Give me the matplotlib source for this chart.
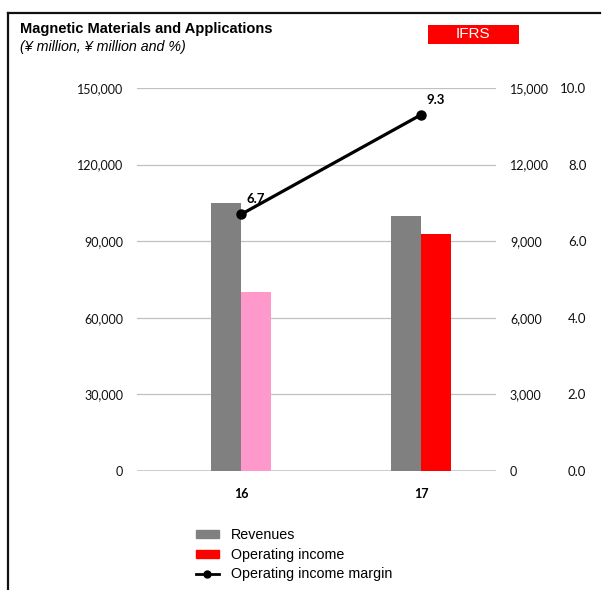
import matplotlib
matplotlib.use("Agg")
import matplotlib.pyplot as plt
from matplotlib.patches import Rectangle
from matplotlib.lines import Line2D
import numpy as np

categories = ["16", "17"]
revenues = [105000, 99900]
operating_income = [7010, 9280]
operating_margin = [6.7, 9.3]
oi_colors = ["#FF99CC", "#FF0000"]

left_ticks = [0, 30000, 60000, 90000, 120000, 150000]
mid_ticks = [0, 3000, 6000, 9000, 12000, 15000]
right_ticks = [0.0, 2.0, 4.0, 6.0, 8.0, 10.0]

W, H = 606, 590
fig = plt.figure(figsize=(W / 100, H / 100), dpi=100)
fig.patch.set_facecolor("white")

tick_font = "Lato"
ax = fig.add_axes([137 / W, 1 - 471 / H, 359 / W, 383 / H])
ax.set_ylim(0, 150000)
ax.set_xlim(-0.578, 1.417)
x = np.arange(len(categories))
bw = 0.167
ax.bar(x - bw / 2, revenues, width=bw, color="#808080", zorder=3, label="Revenues")

ax2 = ax.twinx()
ax2.set_ylim(0, 15000)
ax2.bar(x + bw / 2, operating_income, width=bw, color=oi_colors, zorder=3, label="Operating income")

ax3 = ax.twinx()
ax3.set_ylim(0, 10)
ax3.plot(x, operating_margin, color="black", lw=2.3, marker="o", markersize=6.5, zorder=5,
         label="Operating income margin")
for xi, v in zip(x, operating_margin):
    ax3.annotate(f"{v:.1f}", (xi, v), xytext=(4, 6.5), textcoords="offset points",
                 ha="left", va="bottom", fontsize=9.5, fontweight="bold", family=tick_font)

for a in (ax, ax2, ax3):
    for s in a.spines.values():
        s.set_visible(False)

ax.set_yticks(left_ticks)
ax.set_yticklabels([f"{t:,}" for t in left_ticks], fontsize=9, family=tick_font, color="#111111")
ax.tick_params(axis="y", length=0, pad=10)
ax.yaxis.grid(True, color="#c0c0c0", lw=0.9, zorder=0)
ax.set_axisbelow(True)
ax.axhline(0, color="#c8c8c8", lw=2, zorder=2)

ax.set_xticks(x)
ax.set_xticklabels(categories, fontsize=9, fontweight="bold", family=tick_font)
ax.tick_params(axis="x", length=0, pad=12)

ax2.set_yticks(mid_ticks)
ax2.set_yticklabels([f"{t:,}" for t in mid_ticks], fontsize=9, family=tick_font, color="#111111")
ax2.tick_params(axis="y", length=0, pad=10)

ax3.set_yticks(right_ticks)
ax3.set_yticklabels([f"{t:.1f}" for t in right_ticks], fontsize=9.5, family=tick_font, color="#111111")
ax3.tick_params(axis="y", length=0, pad=65)
for lbl in ax3.get_yticklabels():
    lbl.set_horizontalalignment("right")

# Title
fig.text(20 / W, 1 - 29 / H, "Magnetic Materials and Applications", fontsize=10.5,
         fontweight="bold", family="Liberation Sans", va="center", ha="left")
fig.text(20 / W, 1 - 46.5 / H, "(\u00a5 million, \u00a5 million and %)", fontsize=10.3,
         style="italic", family="Liberation Sans", va="center", ha="left")

# IFRS box
fig.patches.append(Rectangle((428 / W, 1 - 44 / H), 91 / W, 19 / H, transform=fig.transFigure,
                             facecolor="#FF0000", edgecolor="none"))
fig.text(473 / W, 1 - 34.5 / H, "IFRS", color="white", fontsize=11, family="Liberation Sans",
         ha="center", va="center")

# Frame
fig.add_artist(Line2D([8 / W, 600 / W], [1 - 13 / H, 1 - 13 / H], transform=fig.transFigure,
                      color="#111111", lw=1.6))
fig.add_artist(Line2D([8 / W, 8 / W], [1 - 13 / H, 0], transform=fig.transFigure,
                      color="#111111", lw=1.6))

# Legend
handles = [Rectangle((0, 0), 1, 1, color="#808080"),
           Rectangle((0, 0), 1, 1, color="#FF0000"),
           Line2D([], [], color="black", lw=2, marker="o", markersize=5)]
labels = ["Revenues", "Operating income", "Operating income margin"]
leg = fig.legend(handles, labels, loc="upper left", bbox_to_anchor=(196 / W, 1 - 528 / H),
                 frameon=False, prop={"family": "Liberation Sans", "size": 10.3},
                 handlelength=1.6, handleheight=0.5, handletextpad=0.85, labelspacing=0.4,
                 borderpad=0, borderaxespad=0)

fig.savefig("out.png", dpi=100)
